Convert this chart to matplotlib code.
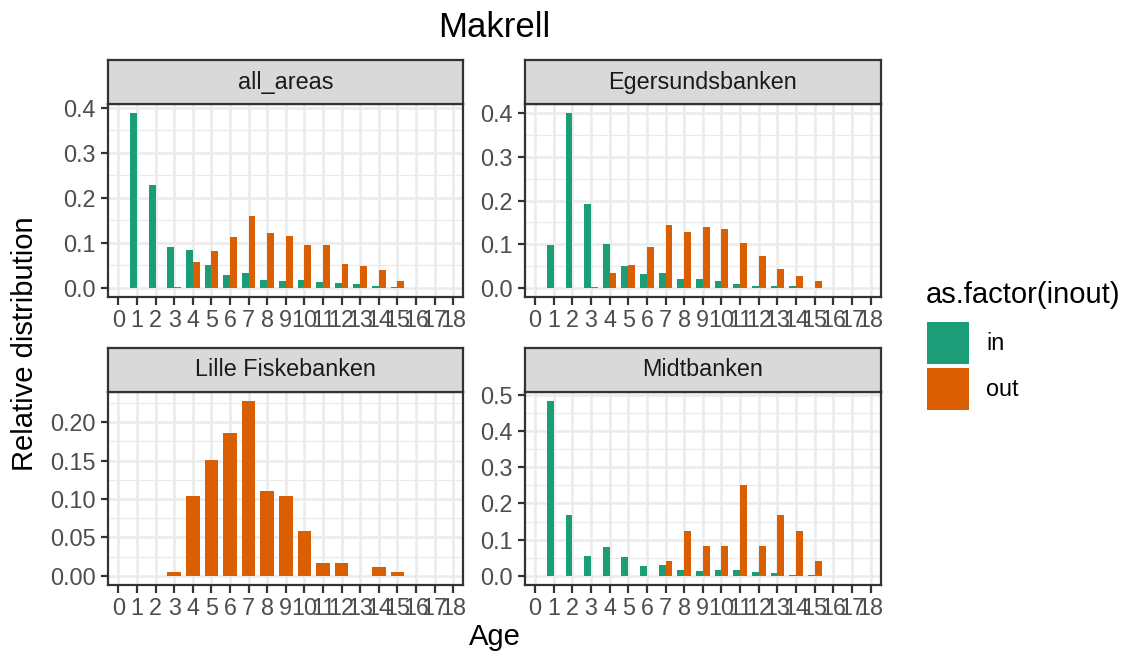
import numpy as np
import matplotlib
matplotlib.use('Agg')
import matplotlib.pyplot as plt
from matplotlib.patches import Rectangle
from matplotlib.ticker import MultipleLocator, FormatStrFormatter

plt.rcParams['font.family'] = ['Liberation Sans', 'DejaVu Sans']

# ---- data ----
ages = list(range(19))
areas = ['all_areas', 'Egersundsbanken', 'Lille Fiskebanken', 'Midtbanken']
groups = ['in', 'out']
colors = ['#1B9E77', '#D95F02']

all_in = [0, .389, .229, .092, .085, .052, .028, .033, .017, .016, .017, .014, .010, .009, .005, .002, 0, 0, 0]
all_out = [0, 0, 0, .003, .057, .081, .113, .159, .121, .116, .095, .096, .053, .049, .039, .016, 0, 0, 0]
eg_in = [0, .099, .401, .193, .100, .050, .031, .035, .021, .021, .016, .010, .005, .004, .004, 0, 0, 0, 0]
eg_out = [0, 0, 0, .002, .035, .052, .093, .143, .128, .140, .134, .103, .072, .043, .028, .015, .001, 0, .001]
lf_out = [0, 0, 0, .0052, .104, .151, .1865, .228, .110, .104, .058, .0165, .0165, 0, .0113, .0052, 0, 0, 0]
mb_in = [0, .484, .169, .055, .079, .051, .028, .030, .015, .013, .017, .015, .009, .007, .003, .003, 0, 0, 0]
mb_out = [0, 0, 0, 0, 0, 0, 0, .042, .125, .083, .083, .250, .083, .167, .125, .042, 0, 0, 0]

panel_data = [
    {'in': all_in, 'out': all_out},
    {'in': eg_in, 'out': eg_out},
    {'out': lf_out},
    {'in': mb_in, 'out': mb_out},
]
y_steps = [0.1, 0.1, 0.05, 0.1]
y_fmts = ['%.1f', '%.1f', '%.2f', '%.1f']

# ---- layout (pixels) ----
W, H = 1130, 658
cols = [(108.3, 463.3), (525.0, 880.7)]
rows = [(104.0, 296.7), (392.0, 584.5)]
strip_h = 44

BORDER = '#333333'
GRID = '#EBEBEB'
TICKTXT = '#4D4D4D'
FS_SMALL = 16.8
FS_BASE = 21

fig = plt.figure(figsize=(W / 100, H / 100), dpi=100)


def px_axes(l, t, r, b):
    return fig.add_axes([l / W, 1 - b / H, (r - l) / W, (b - t) / H])


bar_w = 0.73
for i, area in enumerate(areas):
    l, r = cols[i % 2]
    t, b = rows[i // 2]
    ax = px_axes(l, t, r, b)
    d = panel_data[i]
    present = [g for g in groups if g in d]
    x = np.array(ages)
    for g in present:
        c = colors[groups.index(g)]
        if len(present) == 1:
            ax.bar(x, d[g], width=bar_w, color=c, linewidth=0)
        else:
            off = -bar_w / 4 if g == 'in' else bar_w / 4
            ax.bar(x + off, d[g], width=bar_w / 2, color=c, linewidth=0)

    ymax = max(max(v) for v in d.values())
    ax.set_ylim(-0.05 * ymax, 1.05 * ymax)
    ax.set_xlim(-0.54, 18.54)
    ax.set_xticks(ages)
    ax.set_xticklabels([str(a) for a in ages])
    ax.yaxis.set_major_locator(MultipleLocator(y_steps[i]))
    ax.yaxis.set_minor_locator(MultipleLocator(y_steps[i] / 2))
    ax.yaxis.set_major_formatter(FormatStrFormatter(y_fmts[i]))
    ax.set_axisbelow(True)
    ax.grid(which='major', color=GRID, linewidth=1.8)
    ax.grid(which='minor', axis='y', color=GRID, linewidth=0.9)
    ax.tick_params(which='major', length=5.4, width=1.6, color=BORDER,
                   labelsize=FS_SMALL, labelcolor=TICKTXT, pad=3.5)
    ax.tick_params(which='minor', length=0)
    for s in ax.spines.values():
        s.set_color(BORDER)
        s.set_linewidth(1.6)

    sax = px_axes(l, t - strip_h, r, t)
    sax.set_facecolor('#D9D9D9')
    sax.set_xticks([])
    sax.set_yticks([])
    for s in sax.spines.values():
        s.set_color(BORDER)
        s.set_linewidth(1.6)
    sax.text(0.5, 0.5, area, ha='center', va='center', fontsize=FS_SMALL,
             color='#1A1A1A', transform=sax.transAxes)

# titles
fig.text(494.5 / W, 1 - 37 / H, 'Makrell', ha='center', va='baseline', fontsize=25)
fig.text(494.5 / W, 1 - 645 / H, 'Age', ha='center', va='baseline', fontsize=FS_BASE)
fig.text(25 / W, 1 - 344 / H, 'Relative distribution', ha='center', va='center',
         rotation=90, fontsize=FS_BASE)

# legend
fig.text(926 / W, 1 - 303 / H, 'as.factor(inout)', ha='left', va='baseline', fontsize=FS_BASE)
key = 42.6
for j, g in enumerate(groups):
    top = 321.7 + j * 46.0
    fig.add_artist(Rectangle((926.7 / W, 1 - (top + key) / H), key / W, key / H,
                             transform=fig.transFigure, facecolor=colors[j], edgecolor='none'))
    fig.text(986 / W, 1 - (top + key / 2) / H, g, ha='left', va='center', fontsize=FS_SMALL)

fig.savefig('out.png', dpi=100)
